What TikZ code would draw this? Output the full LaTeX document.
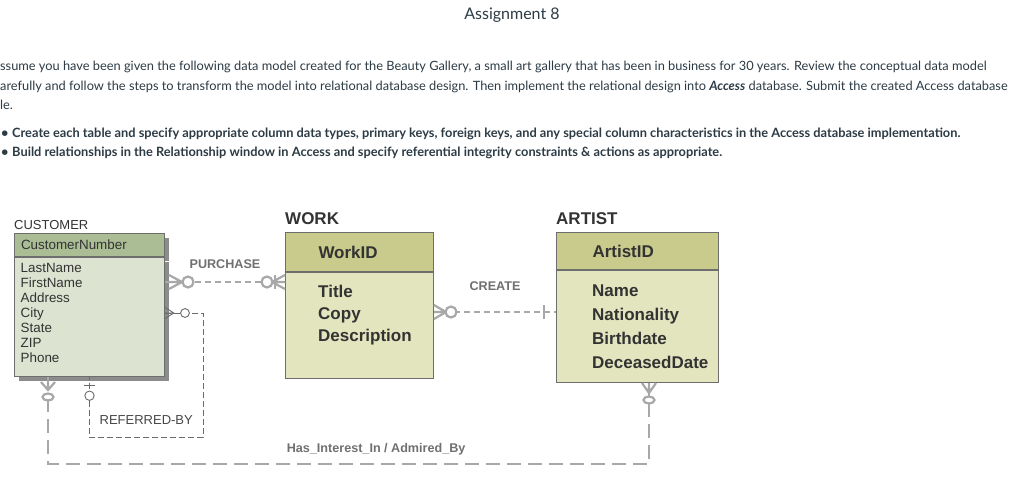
\documentclass[tikz,border=0pt]{standalone}
\usepackage{fontspec}
\setmainfont{Liberation Sans}
\newfontfamily\latofont{Lato}
\usetikzlibrary{positioning,calc,shadows}

\definecolor{custhd}{HTML}{AABD94}
\definecolor{custbd}{HTML}{DCE3D0}
\definecolor{workhd}{HTML}{C8CB8B}
\definecolor{workbd}{HTML}{E3E5BE}
\definecolor{bordgray}{HTML}{6E6E6E}
\definecolor{relgray}{HTML}{A8A8A8}
\definecolor{refgray}{HTML}{6A6A6A}
\definecolor{lblgray}{HTML}{707070}
\definecolor{fldtext}{HTML}{333333}
\definecolor{pagetext}{HTML}{2D3B45}

\tikzset{
  ehead/.style={draw=bordgray, line width=1pt, align=left, inner ysep=0pt, text=fldtext, anchor=north west},
  ebody/.style={draw=bordgray, line width=1pt, inner sep=0pt},
  cshadow/.style={drop shadow={shadow xshift=4pt, shadow yshift=-4pt, fill=black!45, opacity=1}},
  etitle/.style={inner sep=0pt, text=fldtext},
  fld/.style={inner sep=0pt, align=left, text=fldtext},
  relline/.style={draw=relgray, line width=2.6pt, dash pattern=on 6pt off 4pt},
  hasline/.style={draw=relgray, line width=2.6pt, dash pattern=on 14pt off 7pt},
  refline/.style={draw=refgray, line width=0.9pt, dash pattern=on 6pt off 3pt},
  rlabel/.style={inner sep=0pt, text=lblgray, font=\bfseries\fontsize{12.6}{14}\selectfont},
  reflabel/.style={inner sep=0pt, text=fldtext!90, font=\fontsize{13}{15}\selectfont},
  thickend/.style={color=relgray, line width=2.2pt},
  thinend/.style={color=refgray, line width=0.9pt},
  crowfoot/.pic={\draw (0,-7) -- (#1,0) -- (0,7) (0,0) -- (#1,0);},
  zeroring/.pic={\draw[fill=white] (#1,0) circle (5.5);},
  zerooval/.pic={\draw[fill=white] (#1,0) ellipse (3.5 and 5.5);},
  onebar/.pic={\draw (#1,-7) -- (#1,7);},
  ptext/.style={inner sep=0pt, anchor=base west, text=pagetext, font=\latofont\fontsize{12.8}{14}\selectfont},
  btext/.style={ptext, font=\latofont\bfseries\fontsize{12.8}{14}\selectfont},
}

\begin{document}
\begin{tikzpicture}[x=1pt, y=-1pt]
  \path[use as bounding box, fill=white] (0,0) rectangle (1024,493);

  % assignment text
  \node[inner sep=0pt, text=pagetext, font=\latofont\fontsize{16}{18}\selectfont] (title) at (512,15) {Assignment 8};
  \node[ptext] (para1) at (0,70) {ssume you have been given the following data model created for the Beauty Gallery, a small art gallery that has been in business for 30 years. Review the conceptual data model};
  \node[ptext] (para2) at (0,90) {arefully and follow the steps to transform the model into relational database design. Then implement the relational design into \textbf{\textit{Access}} database. Submit the created Access database};
  \node[ptext] (para3) at (0,109) {le.};
  \node[btext] (dot1) at (1,137.5) {\textbullet};
  \node[btext] (bul1) at (12,137.5) {Create each table and specify appropriate column data types, primary keys, foreign keys, and any special column characteristics in the Access database implementation.};
  \node[btext] (dot2) at (1,156.5) {\textbullet};
  \node[btext] (bul2) at (12,156.5) {Build relationships in the Relationship window in Access and specify referential integrity constraints \& actions as appropriate.};

  % CUSTOMER
  \node[ehead, cshadow, fill=custhd, text width=137pt, inner xsep=6.5pt, minimum height=23pt,
        font=\fontsize{13.4}{15}\selectfont] (cnum) at (14,233) {CustomerNumber};
  \node[ebody, cshadow, fill=custbd, minimum width=150pt, minimum height=119pt, below=0pt of cnum] (cbody) {};
  \node[etitle, font=\fontsize{13}{15}\selectfont, above right=3pt and 0pt of cnum.north west] (ctitle) {CUSTOMER};
  \node[fld, font=\fontsize{13.4}{15}\selectfont, below right=6.5pt and 6.5pt of cbody.north west] (cflds)
    {LastName\\FirstName\\Address\\City\\State\\ZIP\\Phone};

  % WORK
  \node[ehead, fill=workhd, text width=82pt, inner xsep=33pt, minimum height=39pt,
        font=\bfseries\fontsize{17}{22}\selectfont] (wid) at (285,232) {WorkID};
  \node[ebody, fill=workbd, minimum width=148pt, minimum height=106pt, below=0pt of wid] (wbody) {};
  \node[etitle, font=\bfseries\fontsize{17}{20}\selectfont, above right=7pt and 0pt of wid.north west] (wtitle) {WORK};
  \node[fld, font=\bfseries\fontsize{17}{22}\selectfont, below right=13pt and 33pt of wbody.north west] (wflds)
    {Title\\Copy\\Description};

  % ARTIST
  \node[ehead, fill=workhd, text width=90pt, inner xsep=36pt, minimum height=37pt,
        font=\bfseries\fontsize{17}{22}\selectfont] (aid) at (556,232) {ArtistID};
  \node[ebody, fill=workbd, minimum width=162pt, minimum height=112pt, below=0pt of aid] (abody) {};
  \node[etitle, font=\bfseries\fontsize{17}{20}\selectfont, above right=7pt and 0pt of aid.north west] (atitle) {ARTIST};
  \node[fld, font=\bfseries\fontsize{17}{24}\selectfont, below right=15pt and 36pt of abody.north west] (aflds)
    {Name\\Nationality\\Birthdate\\DeceasedDate};

  % rows and turns of the relationships
  \coordinate (purrow) at (0,282);
  \coordinate (crerow) at (0,312);
  \coordinate (refrow) at (0,313);
  \coordinate (refturn) at (203,437);
  \coordinate (hasturn) at (48,464);
  \coordinate (hasend) at (649,464);

  \draw[relline] (cbody.east |- purrow) -- node[rlabel, above=12.5pt] (purlbl) {PURCHASE} (wbody.west |- purrow);
  \draw[relline] (wbody.east |- crerow) -- node[rlabel, above=20.5pt] (crelbl) {CREATE} (abody.west |- crerow);
  \draw[refline] (cbody.east |- refrow) -| (refturn) -| node[reflabel, pos=0.25, above=12pt] (reflbl) {REFERRED-BY} (cbody.south);
  \draw[hasline] (cbody.south -| hasturn) -- (hasturn)
    -- node[rlabel, pos=0.546, above=8pt] (haslbl) {Has\_Interest\_In / Admired\_By} (hasend)
    -- (abody.south -| hasend);

  % PURCHASE ends
  \pic[thickend] at ($(cbody.east |- purrow)+(4,0)$) {crowfoot=13};
  \pic[thickend] at ($(cbody.east |- purrow)+(4,0)$) {zeroring=19};
  \pic[thickend, rotate=180] at (wbody.west |- purrow) {crowfoot=13};
  \pic[thickend, rotate=180] at (wbody.west |- purrow) {onebar=10};
  \pic[thickend, rotate=180] at (wbody.west |- purrow) {zeroring=18};
  % CREATE ends
  \pic[thickend] at (wbody.east |- crerow) {crowfoot=12};
  \pic[thickend] at (wbody.east |- crerow) {zeroring=17};
  \pic[thickend, rotate=180] at (abody.west |- crerow) {onebar=12};
  % REFERRED-BY ends
  \pic[thinend, scale=0.8] at (cbody.east |- refrow) {crowfoot=11};
  \pic[thinend, scale=0.8] at (cbody.east |- refrow) {zeroring=25};
  \pic[thinend, rotate=-90, scale=0.85] at (cbody.south) {onebar=10};
  \pic[thinend, rotate=-90, scale=0.85] at (cbody.south) {zeroring=22};
  % Has_Interest_In ends
  \pic[thickend, rotate=-90] at ($(cbody.south -| hasturn)+(0,5)$) {crowfoot=8};
  \pic[thickend, rotate=-90] at ($(cbody.south -| hasturn)+(0,5)$) {zerooval=15};
  \pic[thickend, rotate=-90] at (abody.south -| hasend) {crowfoot=10};
  \pic[thickend, rotate=-90] at (abody.south -| hasend) {zerooval=17};
\end{tikzpicture}
\end{document}
